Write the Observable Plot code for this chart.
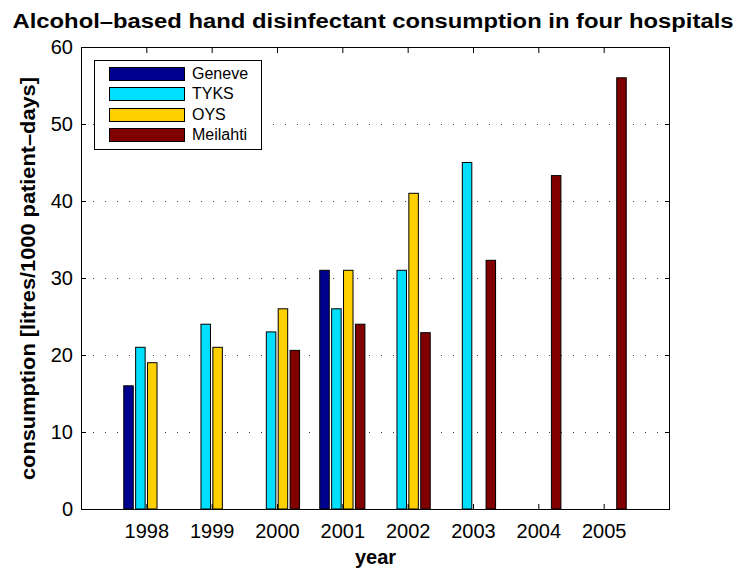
<!DOCTYPE html>
<html>
<head>
<meta charset="utf-8">
<script src="https://cdn.jsdelivr.net/npm/d3@7"></script>
<script src="https://cdn.jsdelivr.net/npm/@observablehq/plot@0.6"></script>
<style>
  html, body { margin: 0; padding: 0; background: #fff; }
  #chart { position: relative; width: 739px; height: 570px; font-family: "Liberation Sans", Arial, sans-serif; }
  #chart svg { display: block; }
  .legend { position: absolute; left: 94px; top: 60px; width: 166px; height: 88px; border: 1px solid #000; background: #fff; box-sizing: content-box; }
  .legend .row { position: absolute; left: 14px; height: 14px; display: flex; align-items: center; }
  .legend .sw { width: 74px; height: 12px; border: 1px solid #000; }
  .legend .lab { margin-left: 7px; font-size: 16px; color: #000; line-height: 14px; }
</style>
</head>
<body>
<div id="chart"></div>
<script>
// Hospitals (series) and their bar colours
const hospitals = ["Geneve", "TYKS", "OYS", "Meilahti"];
const colors = ["#00008f", "#00dfff", "#ffd000", "#800000"];

// Years on the x axis
const years = [1998, 1999, 2000, 2001, 2002, 2003, 2004, 2005];

// Consumption, litres / 1000 patient-days (null = no data)
const geneve   = [16, null, null, 31, null, null, null, null];
const tyks     = [21, 24, 23, 26, 31, 45, null, null];
const oys      = [19, 21, 26, 31, 41, null, null, null];
const meilahti = [null, null, 20.6, 24, 22.9, 32.3, 43.3, 56];

const yTicks = [0, 10, 20, 30, 40, 50, 60];

// Grouped-bar geometry in year units (group of four bars around each year)
const groupWidth = 4 / 5.5;
const step = groupWidth / hospitals.length;
const barWidth = 0.8 * step;

const series = [geneve, tyks, oys, meilahti];
const rows = [];
series.forEach((vals, i) => {
  vals.forEach((v, j) => {
    if (v == null) return;
    const center = years[j] + (i - (hospitals.length - 1) / 2) * step;
    rows.push({hospital: hospitals[i], year: years[j], value: v,
               x1: center - barWidth / 2, x2: center + barWidth / 2});
  });
});

const font = "Liberation Sans, Arial, sans-serif";

const plot = Plot.plot({
  width: 739,
  height: 570,
  marginTop: 47,
  marginLeft: 81,
  marginRight: 70,
  marginBottom: 61,
  style: {fontFamily: font, color: "#000", background: "#fff"},
  x: {domain: [1997, 2006], ticks: years},
  y: {domain: [0, 60], ticks: yTicks},
  color: {domain: hospitals, range: colors},
  marks: [
    // dotted horizontal grid
    Plot.ruleY(yTicks.filter(d => d > 0 && d < 60), {
      stroke: "#000", strokeOpacity: 0.75, strokeWidth: 1, strokeDasharray: "1,11"
    }),
    Plot.rectY(rows, {
      x1: "x1", x2: "x2", y1: 0, y2: "value", fill: "hospital",
      stroke: "#000", strokeWidth: 1
    }),
    Plot.frame({stroke: "#000", strokeWidth: 1}),
    Plot.axisX({anchor: "bottom", ticks: years, tickFormat: d => String(d),
      tickSize: -5, tickPadding: 19, fontSize: 20, label: null}),
    Plot.axisX({anchor: "top", ticks: years, tickFormat: () => "",
      tickSize: -5, label: null}),
    Plot.axisY({anchor: "left", ticks: yTicks, tickSize: -5, tickPadding: 13.5,
      fontSize: 20, label: null}),
    Plot.axisY({anchor: "right", ticks: yTicks, tickFormat: () => "",
      tickSize: -5, label: null}),
    Plot.text(["Alcohol\u2013based hand disinfectant consumption in four hospitals"], {
      frameAnchor: "top", dy: -19.7, dx: -2.5, lineAnchor: "bottom", textAnchor: "middle",
      fontSize: 20, fontWeight: "bold", fill: "#000", className: "chart-title"
    }),
    Plot.text(["year"], {
      frameAnchor: "bottom", dy: 54.3, lineAnchor: "bottom", textAnchor: "middle",
      fontSize: 20, fontWeight: "bold", fill: "#000"
    }),
    Plot.text(["consumption [litres/1000 patient\u2013days]"], {
      frameAnchor: "left", dx: -47, rotate: -90, lineAnchor: "bottom", textAnchor: "middle",
      fontSize: 20, fontWeight: "bold", fill: "#000", className: "y-title"
    })
  ]
});

// the typeface used for the headings runs slightly wide: stretch to full length
const fit = (sel, len) => {
  const t = plot.querySelector(sel);
  if (t) { t.setAttribute("textLength", len); t.setAttribute("lengthAdjust", "spacingAndGlyphs"); }
};
fit(".chart-title text", 721);
fit(".y-title text", 403);

const chart = document.getElementById("chart");
chart.appendChild(plot);

// Legend box inside the plot area
const legend = document.createElement("div");
legend.className = "legend";
hospitals.forEach((h, i) => {
  const row = document.createElement("div");
  row.className = "row";
  row.style.top = (6 + i * 20.3) + "px";
  const sw = document.createElement("div");
  sw.className = "sw";
  sw.style.background = colors[i];
  const lab = document.createElement("span");
  lab.className = "lab";
  lab.textContent = h;
  row.appendChild(sw);
  row.appendChild(lab);
  legend.appendChild(row);
});
chart.appendChild(legend);
</script>
</body>
</html>
